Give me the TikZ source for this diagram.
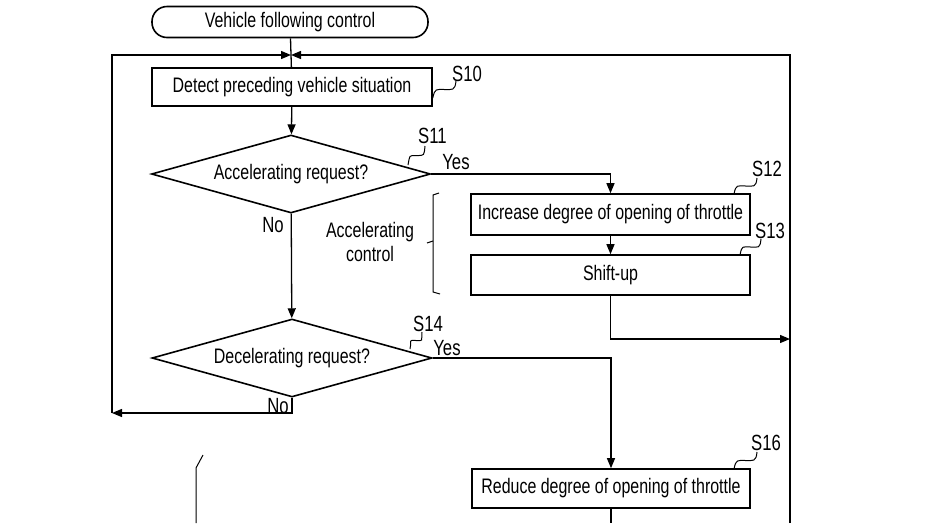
\documentclass[tikz,border=0pt]{standalone}
\usepackage{fontspec}
\setmainfont{Liberation Sans}[FakeStretch=0.76]
\usetikzlibrary{shapes.geometric,arrows.meta,calc}

\tikzset{
    txt/.style={font=\fontsize{21}{24}\selectfont},
    box/.style={draw, txt, line width=1.6pt, minimum width=279pt, minimum height=40pt, inner sep=0pt},
    decision/.style={draw, txt, diamond, aspect=3.5, line width=1.6pt, minimum width=279pt, minimum height=78pt, inner sep=0pt},
    flow/.style={line width=1.3pt},
    steplabel/.style={font=\fontsize{22}{24}\selectfont, inner sep=0pt},
}
% wavy leader line from a step to its label
\newcommand{\stepleader}[2]{\draw[line width=1pt] #1 .. controls +(2,-10) and +(-8,0) .. ($#1!0.5!#2$) .. controls +(8,0) and +(-1,10) .. #2;}

\begin{document}
\begin{tikzpicture}[x=1pt, y=-1pt, >={Triangle[length=10pt,width=8pt]}]
    \useasboundingbox (0,0) rectangle (930,523);

    % start
    \node[draw, txt, rounded corners=15pt, line width=1.6pt, minimum width=276pt, minimum height=31pt, inner sep=0pt] (start) at (290,22) {Vehicle following control};

    % loop frame
    \coordinate (topL) at (112,55);
    \coordinate (topM) at (291,55);
    \coordinate (topR) at (790,55);
    \coordinate (loopL) at (112,413);
    \coordinate (loopR) at (790,339);
    \coordinate (botR) at (790,523);

    % steps
    \node[box, minimum width=280pt, minimum height=38pt] (s10) at (292,87) {Detect preceding vehicle situation};
    \node[decision] (s11) at (291,174) {Accelerating request?};
    \node[box, minimum height=41pt] (s12) at (610.5,214.5) {Increase degree of opening of throttle};
    \node[box] (s13) at (610.5,275) {Shift-up};
    \node[decision, minimum width=280pt] (s14) at (292,358) {Decelerating request?};
    \node[box, minimum width=278pt, minimum height=39pt] (s16) at (611,488.5) {Reduce degree of opening of throttle};

    % step numbers
    \node[steplabel, anchor=south west] (l10) at (452,82) {S10};
    \node[steplabel, anchor=south west] (l11) at (418,144) {S11};
    \node[steplabel, anchor=south west] (l12) at (752,177) {S12};
    \node[steplabel, anchor=south west] (l13) at (755,239) {S13};
    \node[steplabel, anchor=south west] (l14) at (413,332) {S14};
    \node[steplabel, anchor=south west] (l16) at (751,451) {S16};

    \stepleader{(s10.east |- 0,98)}{(456,81)}
    \stepleader{(408,165)}{(425,146)}
    \stepleader{(734,194)}{(757,178)}
    \stepleader{(740,255)}{(761,239)}
    \stepleader{(410,349)}{(422,332)}
    \stepleader{(734,469)}{(757,452)}

    % branch labels
    \node[steplabel] (y11) at (456,162) {Yes};
    \node[steplabel] (n11) at (273,225) {No};
    \node[steplabel] (y14) at (447,348) {Yes};
    \node[steplabel] (n14) at (278,406) {No};

    % accelerating control bracket
    \node[txt, align=center] (acc) at (370,242) {Accelerating\\control};
    \draw[line width=1pt] (439,193) -- (433,195) -- (433,292) -- (440,294);
    \draw[line width=1pt] (427,243) -- (433,241);
    \draw[line width=1pt] (203,455) -- (196,468) -- (196,523);

    % connectors
    \draw[flow] (start) -- (s10);
    \draw[flow,->] (loopL) -- (topL) -- (topM);
    \draw[flow,->] (botR) -- (topR) -- (topM);
    \draw[flow,->] (s10) -- (s11);
    \draw[flow,->] (s11.east) -- (s11.east -| s12.north) -- (s12.north);
    \draw[flow,->] (s12) -- (s13);
    \draw[flow,->] (s13.south) |- (loopR);
    \draw[flow,->] (s11) -- (s14);
    \draw[flow,->] (s14.east) -| (s16.north);
    \draw[flow,->] (s14.south) |- (loopL);
    \draw[flow] (s16.south) -- (s16.south |- botR);
\end{tikzpicture}
\end{document}
